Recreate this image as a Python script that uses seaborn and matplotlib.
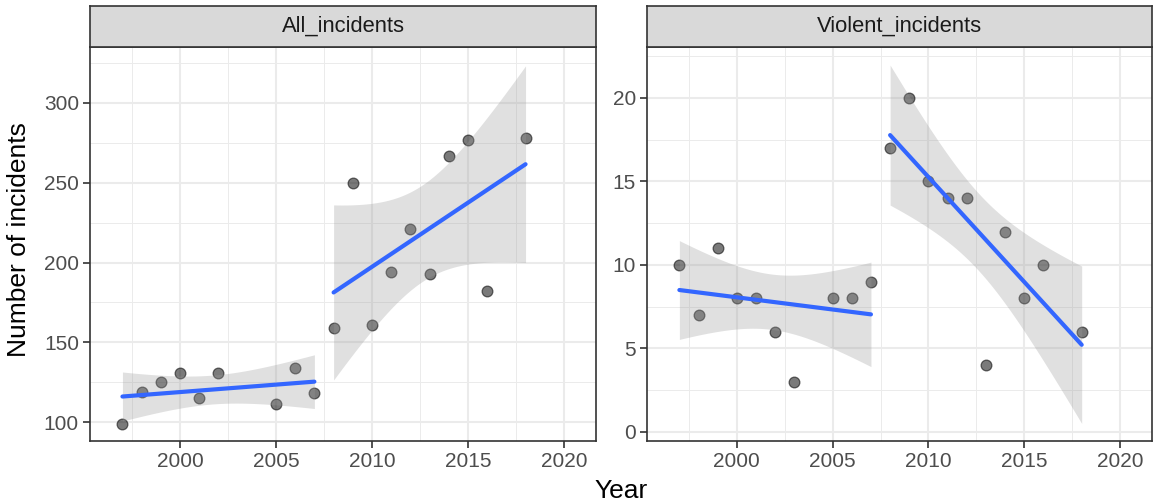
import numpy as np
import pandas as pd
import seaborn as sns
import matplotlib
matplotlib.use("Agg")
import matplotlib.pyplot as plt
from matplotlib.ticker import MultipleLocator

sns.set_theme(style="white")
plt.rcParams['font.family'] = ['Liberation Sans', 'DejaVu Sans']

# data
all_years = [1997, 1998, 1999, 2000, 2001, 2002, 2005, 2006, 2007,
             2008, 2009, 2010, 2011, 2012, 2013, 2014, 2015, 2016, 2018]
all_counts = [99, 119, 125, 131, 115, 131, 111, 134, 118,
              159, 250, 161, 194, 221, 193, 267, 277, 182, 278]

violent_years = [1997, 1998, 1999, 2000, 2001, 2002, 2003, 2005, 2006, 2007,
                 2008, 2009, 2010, 2011, 2012, 2013, 2014, 2015, 2016, 2018]
violent_counts = [10, 7, 11, 8, 8, 6, 3, 8, 8, 9,
                  17, 20, 15, 14, 14, 4, 12, 8, 10, 6]

split_year = 2008
panels = ["All_incidents", "Violent_incidents"]

df = pd.concat([
    pd.DataFrame({"Year": all_years, "n": all_counts, "type": panels[0]}),
    pd.DataFrame({"Year": violent_years, "n": violent_counts, "type": panels[1]}),
])
df["period"] = np.where(df["Year"] < split_year, "before", "after")

T975 = {7: 2.3646, 8: 2.3060, 9: 2.2622, 10: 2.2281}


def ci_band(x, y):
    x = np.asarray(x, float)
    y = np.asarray(y, float)
    n = len(x)
    b, a = np.polyfit(x, y, 1)
    resid = y - (a + b * x)
    s = np.sqrt(np.sum(resid ** 2) / (n - 2))
    sxx = np.sum((x - x.mean()) ** 2)
    grid = np.linspace(x.min(), x.max(), 100)
    se = s * np.sqrt(1 / n + (grid - x.mean()) ** 2 / sxx)
    fit = a + b * grid
    t = T975[n - 2]
    return grid, fit - t * se, fit + t * se


W, H = 1153, 504
fig = plt.figure(figsize=(W / 100, H / 100), dpi=100)

boxes = [(90, 596), (647, 1152)]
top, bottom = 47, 441
limits = {"All_incidents": (88.1, 335.1, 50, 25),
          "Violent_incidents": (-0.54, 23.05, 5, 2.5)}

for name, (x0, x1) in zip(panels, boxes):
    ax = fig.add_axes([x0 / W, (H - bottom) / H, (x1 - x0) / W, (bottom - top) / H])
    strip = fig.add_axes([x0 / W, (H - top) / H, (x1 - x0) / W, 41 / H])

    sub = df[df["type"] == name]
    sns.scatterplot(data=sub, x="Year", y="n", ax=ax, s=60,
                    color=(0, 0, 0, 0.52), edgecolor=(0, 0, 0, 0.55),
                    linewidth=0.9, zorder=3)
    for period in ["before", "after"]:
        g = sub[sub["period"] == period]
        gx, lo, hi = ci_band(g["Year"], g["n"])
        ax.fill_between(gx, lo, hi, color="#999999", alpha=0.3,
                        linewidth=0, zorder=4)
        sns.regplot(data=g, x="Year", y="n", ax=ax, scatter=False, ci=None,
                    line_kws=dict(color="#3366FF", linewidth=3, zorder=5))

    ymin, ymax, major, minor = limits[name]
    ax.set_xlim(1995.31, 2021.67)
    ax.set_ylim(ymin, ymax)
    ax.xaxis.set_major_locator(MultipleLocator(5))
    ax.xaxis.set_minor_locator(MultipleLocator(2.5))
    ax.yaxis.set_major_locator(MultipleLocator(major))
    ax.yaxis.set_minor_locator(MultipleLocator(minor))
    ax.grid(which="major", color="#ebebeb", linewidth=1.5, zorder=0)
    ax.grid(which="minor", color="#ebebeb", linewidth=0.7, zorder=0)
    ax.set_axisbelow(True)
    ax.tick_params(which="major", direction="out", length=5, width=1.2,
                   color="#333333", labelsize=15, labelcolor="#4d4d4d",
                   left=True, bottom=True, pad=3)
    ax.tick_params(which="minor", length=0)
    for sp in ax.spines.values():
        sp.set_color("#333333")
        sp.set_linewidth(1.2)
    ax.set_xlabel("")
    ax.set_ylabel("")

    strip.set_facecolor("#d9d9d9")
    strip.set_xticks([])
    strip.set_yticks([])
    for sp in strip.spines.values():
        sp.set_color("#333333")
        sp.set_linewidth(1.2)
    strip.text(0.5, 0.5, name, ha="center", va="center", fontsize=15.8,
               color="#1a1a1a", transform=strip.transAxes)

fig.text(621 / W, 13 / H, "Year", ha="center", va="center", fontsize=19,
         color="black")
fig.text(19 / W, (H - 240) / H, "Number of incidents", ha="center",
         va="center", rotation=90, fontsize=19, color="black")

fig.savefig("out.png", dpi=100)
